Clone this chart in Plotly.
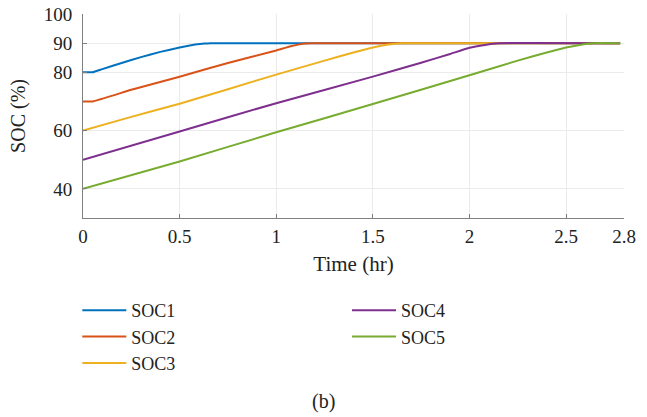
import plotly.graph_objects as go

# Data
t1 = [0, 0.05, 0.1, 0.2, 0.3, 0.4, 0.5, 0.58, 0.63, 0.66, 2.78]
soc1 = [80, 80, 81.1, 83.2, 85.2, 87.0, 88.5, 89.5, 89.9, 90, 90]

t2 = [0, 0.05, 0.25, 0.5, 0.75, 1.0, 1.08, 1.14, 1.18, 2.78]
soc2 = [70, 70, 74.0, 78.5, 83.2, 87.5, 89.0, 89.8, 90, 90]

t3 = [0, 0.25, 0.5, 0.75, 1.0, 1.25, 1.4, 1.5, 1.58, 1.65, 2.78]
soc3 = [60, 64.7, 69.2, 74.2, 79.2, 84.0, 86.8, 88.5, 89.5, 90, 90]

t4 = [0, 0.5, 1.0, 1.5, 1.75, 1.9, 2.0, 2.08, 2.15, 2.78]
soc4 = [50, 59.7, 69.4, 78.5, 83.3, 86.3, 88.4, 89.4, 90, 90]

t5 = [0, 0.5, 1.0, 1.5, 2.0, 2.25, 2.4, 2.5, 2.57, 2.64, 2.78]
soc5 = [40, 49.4, 59.4, 69.1, 79.0, 84.0, 86.8, 88.5, 89.4, 90, 90]

names = ["SOC1", "SOC2", "SOC3", "SOC4", "SOC5"]
colors = ["#0072BD", "#D95319", "#EDB120", "#7E2F8E", "#77AC30"]
x_ticks = [0, 0.5, 1, 1.5, 2, 2.5, 2.8]
x_tick_labels = ["0", "0.5", "1", "1.5", "2", "2.5", "2.8"]
y_ticks = [40, 60, 80, 90, 100]

series = [(t1, soc1), (t2, soc2), (t3, soc3), (t4, soc4), (t5, soc5)]
legends = ["legend", "legend", "legend", "legend2", "legend2"]

FONT = "Liberation Serif, Times New Roman, serif"
TXT = "#222222"

fig = go.Figure()
for (t, v), name, c, lg in zip(series, names, colors, legends):
    fig.add_trace(go.Scatter(
        x=t, y=v, mode="lines", name=name,
        line=dict(color=c, width=2, shape="spline", smoothing=0.3),
        legend=lg,
    ))

W, H = 647, 417
L, R, T, B = 82.7, 22.7, 14, 199
pw = W - L - R
ph = H - T - B

def px_x(p):
    return (p - L) / pw

def px_y(p):
    return (H - B - p) / ph

legend_common = dict(
    font=dict(family=FONT, size=18, color=TXT),
    bgcolor="rgba(0,0,0,0)",
    itemwidth=44,
    yanchor="top",
    xanchor="left",
    tracegroupgap=0,
)

fig.update_layout(
    template="none",
    width=W, height=H,
    margin=dict(l=L, r=R, t=T, b=B, autoexpand=False),
    paper_bgcolor="white",
    plot_bgcolor="white",
    font=dict(family=FONT, color=TXT),
    showlegend=True,
    legend=dict(x=px_x(77), y=px_y(292), **legend_common),
    legend2=dict(x=px_x(347), y=px_y(292), **legend_common),
    xaxis=dict(
        range=[0, 2.8], automargin=False,
        tickmode="array", tickvals=x_ticks, ticktext=x_tick_labels,
        showgrid=True, gridcolor="#ebebeb", gridwidth=1,
        showline=True, linecolor="#808080", linewidth=1,
        ticks="inside", ticklen=4, tickcolor="#808080",
        tickfont=dict(family=FONT, size=19, color=TXT),
        ticklabelstandoff=1,
        zeroline=False,
        title=dict(text="Time (hr)", font=dict(family=FONT, size=21, color=TXT), standoff=10),
    ),
    yaxis=dict(
        range=[30, 100], automargin=False,
        tickmode="array", tickvals=y_ticks,
        showgrid=True, gridcolor="#ebebeb", gridwidth=1,
        showline=True, linecolor="#808080", linewidth=1,
        ticks="inside", ticklen=4, tickcolor="#808080",
        tickfont=dict(family=FONT, size=19, color=TXT),
        ticklabelstandoff=6,
        zeroline=False,
        title=dict(text="SOC (%)", font=dict(family=FONT, size=20, color=TXT), standoff=12),
    ),
    annotations=[dict(
        text="(b)", xref="paper", yref="paper",
        x=px_x(W / 2), y=px_y(401), xanchor="center", yanchor="middle",
        showarrow=False, font=dict(family=FONT, size=20, color=TXT),
    )],
)

fig.write_html("out.html")
